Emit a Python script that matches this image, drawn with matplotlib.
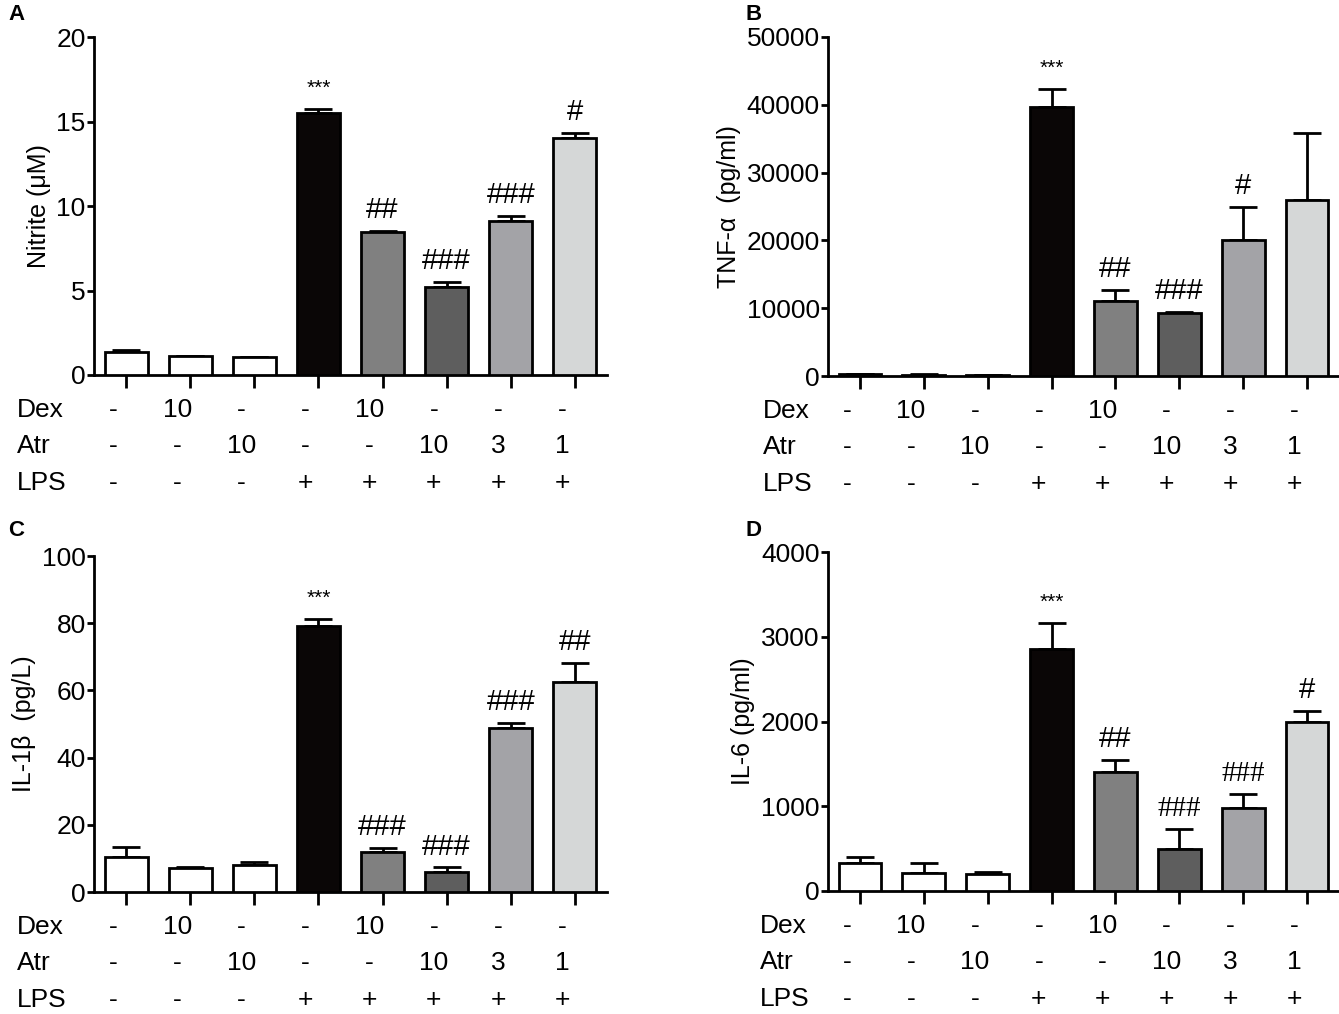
import numpy as np
import matplotlib
matplotlib.use("Agg")
from matplotlib import pyplot as plt
from matplotlib import transforms as mtrans

# group settings (shared by all panels)
dex = ["-", "10", "-", "-", "10", "-", "-", "-"]
atr = ["-", "-", "10", "-", "-", "10", "3", "1"]
lps = ["-", "-", "-", "+", "+", "+", "+", "+"]
bar_colors = ["white", "white", "white", "#0a0606", "#808080", "#5e5e5e", "#a3a3a7", "#d5d7d7"]

# panel A - nitrite
nitrite = [1.35, 1.1, 1.05, 15.5, 8.45, 5.2, 9.1, 14.05]
nitrite_err = [0.15, 0.03, 0.02, 0.25, 0.05, 0.3, 0.3, 0.25]
nitrite_sig = ["", "", "", "***", "##", "###", "###", "#"]

# panel B - TNF-a
tnf = [300, 200, 150, 39700, 11100, 9300, 20000, 25900]
tnf_err = [50, 30, 30, 2600, 1600, 200, 4900, 10000]
tnf_sig = ["", "", "", "***", "##", "###", "#", ""]

# panel C - IL-1b
il1b = [10.5, 7.0, 8.0, 79.3, 12.0, 6.0, 48.8, 62.5]
il1b_err = [3.0, 0.5, 1.0, 2.0, 1.0, 1.3, 1.5, 5.8]
il1b_sig = ["", "", "", "***", "###", "###", "###", "##"]

# panel D - IL-6
il6 = [330, 210, 200, 2860, 1400, 500, 980, 2000]
il6_err = [70, 120, 30, 300, 150, 230, 160, 120]
il6_sig = ["", "", "", "***", "##", "###", "###", "#"]
il6_thin = [False, False, False, False, False, True, True, False]

plt.rcParams['font.family'] = ['Liberation Sans', 'DejaVu Sans']

W, H = 1339, 1014
fig = plt.figure(figsize=(W / 100, H / 100), dpi=100)


def px_ax(left, top, right, bottom):
    return fig.add_axes([left / W, 1 - bottom / H, (right - left) / W, (bottom - top) / H])


def panel(ax, vals, errs, sigs, ymax, ystep, ylabel, label_x, thin=None):
    x = np.arange(len(vals))
    ax.bar(x, vals, width=0.67, color=bar_colors, edgecolor="black", linewidth=2.0, zorder=3)
    zeros = np.zeros(len(vals))
    ax.errorbar(x, vals, yerr=[zeros, errs], fmt="none", ecolor="black",
                elinewidth=2.0, capsize=10, capthick=2.0, zorder=2)
    ax.set_xlim(-0.5, len(vals) - 0.5)
    ax.set_ylim(0, ymax)
    ax.set_yticks(np.arange(0, ymax + 1e-9, ystep))
    ax.set_xticks(x)
    ax.set_xticklabels([])
    for s in ["top", "right"]:
        ax.spines[s].set_visible(False)
    for s in ["left", "bottom"]:
        ax.spines[s].set_linewidth(2.0)
    ax.tick_params(axis="x", direction="out", length=9, width=2.0)
    ax.tick_params(axis="y", direction="out", length=5, width=2.0, pad=1, labelsize=19)
    ax.set_ylabel(ylabel, fontsize=18, labelpad=4)

    # significance marks
    for i, s in enumerate(sigs):
        if not s:
            continue
        top = vals[i] + errs[i]
        if s == "***":
            ax.annotate(s, (i, top), xytext=(0, 8), textcoords="offset points",
                        ha="center", va="bottom", fontsize=15)
        else:
            fam = ['Liberation Serif'] if (thin is not None and thin[i]) else ['Liberation Sans']
            ax.annotate(s, (i, top), xytext=(0, 5), textcoords="offset points",
                        ha="center", va="bottom", fontsize=21, family=fam)

    # treatment table under the axis
    rows = [("Dex", dex, -25), ("Atr", atr, -51), ("LPS", lps, -78)]
    trans = ax.get_xaxis_transform()
    for name, row, off in rows:
        tr = mtrans.blended_transform_factory(fig.transFigure, ax.transAxes) + \
            mtrans.ScaledTranslation(0, off / 72, fig.dpi_scale_trans)
        fig.text(label_x / W, 0, name, fontsize=19, ha="left", va="center", transform=tr)
        for i, v in enumerate(row):
            ax.annotate(v, (i - 0.2, 0), xycoords=trans, xytext=(0, off),
                        textcoords="offset points", ha="center", va="center",
                        fontsize=19, annotation_clip=False)


axA = px_ax(94, 37, 607, 375)
panel(axA, nitrite, nitrite_err, nitrite_sig, 20, 5, "Nitrite (μM)", 17)
axB = px_ax(828, 37, 1339, 376)
panel(axB, tnf, tnf_err, tnf_sig, 50000, 10000, "TNF-α  (pg/ml)", 763)
axC = px_ax(94, 556, 607, 892)
panel(axC, il1b, il1b_err, il1b_sig, 100, 20, "IL-1β  (pg/L)", 17)
axD = px_ax(828, 552, 1339, 891)
panel(axD, il6, il6_err, il6_sig, 4000, 1000, "IL-6 (pg/ml)", 760, thin=il6_thin)

for letter, (px, py) in zip("ABCD", [(8, 14), (745, 14), (8, 530), (745, 530)]):
    fig.text(px / W, 1 - py / H, letter, fontsize=16, fontweight="bold", ha="left", va="center")

fig.savefig("out.png", dpi=100)
